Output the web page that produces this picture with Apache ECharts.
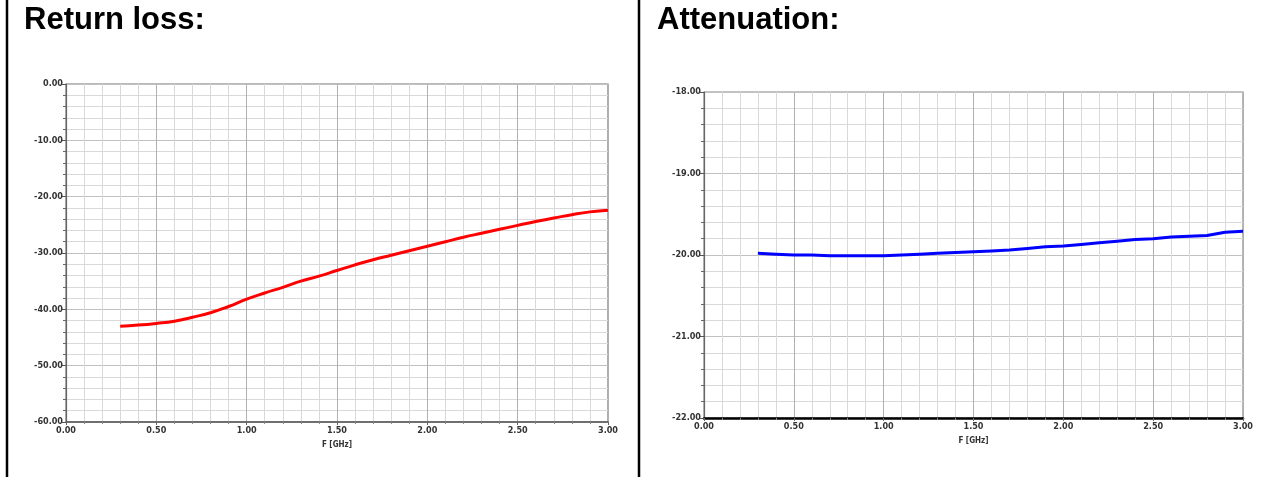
<!DOCTYPE html>
<html>
<head>
<meta charset="utf-8">
<script src="https://cdn.jsdelivr.net/npm/echarts@6/dist/echarts.min.js"></script>
<style>
  html, body { margin: 0; padding: 0; background: #fff; }
  #chart { width: 1275px; height: 477px; }
</style>
</head>
<body>
<div id="chart"></div>
<script>
// ---- data ----
const titles = ['Return loss:', 'Attenuation:'];
const xAxisName = 'F [GHz]';
const freqGHz = [0.3, 0.4, 0.5, 0.6, 0.7, 0.8, 0.9, 1.0, 1.1, 1.2, 1.3, 1.4, 1.5, 1.6,
                 1.7, 1.8, 1.9, 2.0, 2.1, 2.2, 2.3, 2.4, 2.5, 2.6, 2.7, 2.8, 2.9, 3.0];
const returnLossDb = [-43.0, -42.8, -42.5, -42.1, -41.4, -40.6, -39.5, -38.2, -37.1, -36.1,
                      -35.0, -34.1, -33.1, -32.1, -31.2, -30.4, -29.6, -28.8, -28.0, -27.2,
                      -26.5, -25.8, -25.1, -24.4, -23.8, -23.2, -22.7, -22.4];
const attenuationDb = [-19.98, -19.99, -20.00, -20.00, -20.01, -20.01, -20.01, -20.01, -20.00, -19.99,
                       -19.98, -19.97, -19.96, -19.95, -19.94, -19.92, -19.90, -19.89, -19.87, -19.85,
                       -19.83, -19.81, -19.80, -19.78, -19.77, -19.76, -19.72, -19.71];
const returnLossAxis = { min: -60, max: 0, interval: 10 };
const attenuationAxis = { min: -22, max: -18, interval: 1 };
const freqAxis = { min: 0, max: 3, interval: 0.5 };

// ---- chart ----
const labelFont = "'Liberation Sans Narrow', 'DejaVu Sans Condensed', 'Liberation Sans', sans-serif";
const chart = echarts.init(document.getElementById('chart'), null, { renderer: 'canvas' });

function xAxisCfg(gridIndex, lineColor, lineWidth) {
  return {
    type: 'value', gridIndex,
    min: freqAxis.min, max: freqAxis.max, interval: freqAxis.interval,
    name: xAxisName, nameLocation: 'middle', nameGap: 19,
    nameTextStyle: { fontFamily: labelFont, fontSize: 8, fontWeight: 'bold', color: '#333' },
    axisLine: { show: true, onZero: false, lineStyle: { color: lineColor, width: lineWidth } },
    axisTick: { show: true, length: 3, lineStyle: { color: '#666' } },
    minorTick: { show: true, splitNumber: 5, length: 2, lineStyle: { color: '#888' } },
    axisLabel: { margin: 4, fontFamily: labelFont, fontSize: 9, fontWeight: 'bold', color: '#333',
                 formatter: v => v.toFixed(2) },
    splitLine: { show: true, lineStyle: { color: '#b0b0b0', width: 1 } },
    minorSplitLine: { show: true, lineStyle: { color: '#d9d9d9', width: 1 } }
  };
}
function yAxisCfg(gridIndex, ax) {
  return {
    type: 'value', gridIndex,
    min: ax.min, max: ax.max, interval: ax.interval,
    axisLine: { show: true, onZero: false, lineStyle: { color: '#666', width: 1.2 } },
    axisTick: { show: true, length: 4, lineStyle: { color: '#555' } },
    minorTick: { show: true, splitNumber: 5, length: 3, lineStyle: { color: '#666' } },
    axisLabel: { margin: 3, fontFamily: labelFont, fontSize: 9, fontWeight: 'bold', color: '#333',
                 formatter: v => v.toFixed(2) },
    splitLine: { show: true, lineStyle: { color: '#c0c0c0', width: 1 } },
    minorSplitLine: { show: true, lineStyle: { color: '#d9d9d9', width: 1 } }
  };
}

const titleStyle = { fontFamily: "'Liberation Sans', Arial, sans-serif", fontSize: 31, fontWeight: 'bold', color: '#000' };
const option = {
  backgroundColor: '#fff',
  animation: false,
  title: [
    { text: titles[0], left: 19, top: 0, textStyle: titleStyle },
    { text: titles[1], left: 652, top: 0, textStyle: titleStyle }
  ],
  graphic: [
    { type: 'line', shape: { x1: 7, y1: 0, x2: 7, y2: 477 }, style: { stroke: '#000', lineWidth: 2.5 } },
    { type: 'line', shape: { x1: 639, y1: 0, x2: 639, y2: 477 }, style: { stroke: '#000', lineWidth: 2.5 } }
  ],
  grid: [
    { left: 66, top: 84, width: 542, height: 338, show: true, borderColor: '#777', borderWidth: 1.2, backgroundColor: '#fff' },
    { left: 704, top: 92, width: 539, height: 326, show: true, borderColor: '#888', borderWidth: 1.2, backgroundColor: '#fff' }
  ],
  xAxis: [ xAxisCfg(0, '#555', 1.5), xAxisCfg(1, '#000', 2.5) ],
  yAxis: [ yAxisCfg(0, returnLossAxis), yAxisCfg(1, attenuationAxis) ],
  series: [
    { type: 'line', xAxisIndex: 0, yAxisIndex: 0, showSymbol: false, smooth: true,
      data: freqGHz.map((f, i) => [f, returnLossDb[i]]),
      lineStyle: { color: '#ff0000', width: 3 } },
    { type: 'line', xAxisIndex: 1, yAxisIndex: 1, showSymbol: false, smooth: false,
      data: freqGHz.map((f, i) => [f, attenuationDb[i]]),
      lineStyle: { color: '#0000ff', width: 3 } }
  ]
};
chart.setOption(option);
</script>
</body>
</html>
